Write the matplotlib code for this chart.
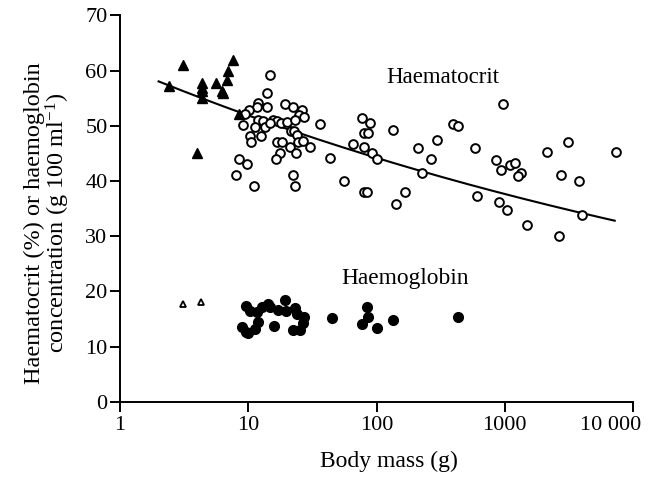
import numpy as np
import matplotlib
matplotlib.use('Agg')
import matplotlib.pyplot as plt
import matplotlib.transforms as mtransforms
from matplotlib.ticker import FixedLocator, NullLocator

plt.rcParams['font.family'] = ['Liberation Serif', 'DejaVu Serif']
plt.rcParams['mathtext.fontset'] = 'custom'
plt.rcParams['mathtext.rm'] = 'Liberation Serif'
plt.rcParams['mathtext.it'] = 'Liberation Serif:italic'

# haematocrit, open circles (body mass g, %)
hct_mass = [14.8, 13.9, 12.0, 11.6, 14.1, 10.2, 9.4, 19.3, 22.2, 26.1, 24.8, 27.3,
            12.0, 13.0, 15.7, 16.8, 17.9, 19.9, 23.1, 9.1, 11.3, 13.5, 14.8, 21.5,
            22.8, 24.1, 24.5, 26.8, 30.3, 10.4, 12.5, 10.6, 16.8, 18.2, 21.1, 17.7,
            23.5, 16.4, 8.5, 9.8, 8.0, 22.2, 11.1, 23.2, 36.2, 43.3, 77.4, 88.8,
            80.5, 85.7, 135, 65.8, 79.8, 92.6, 100, 56.0, 80.2, 83.7, 166, 142,
            209, 297, 264, 227, 392, 433, 585, 609, 972, 853, 932, 1096, 1199, 1328,
            1259, 2143, 3087, 2723, 3781, 7345, 904, 1044, 1479, 2641, 3968]
hct_val = [59.2, 56.0, 54.2, 53.4, 53.4, 52.8, 52.2, 53.9, 53.3, 52.8, 51.9, 51.6,
           51.0, 50.9, 51.0, 50.9, 50.4, 50.7, 51.0, 50.1, 49.8, 49.8, 50.4, 49.1,
           49.0, 48.3, 47.1, 47.2, 46.1, 48.1, 48.1, 47.1, 47.1, 47.1, 46.1, 45.0,
           45.0, 44.0, 44.0, 43.1, 41.0, 41.0, 39.1, 39.1, 50.3, 44.1, 51.4, 50.5,
           48.6, 48.6, 49.2, 46.6, 46.2, 45.0, 44.0, 40.0, 38.0, 38.0, 38.0, 35.8,
           45.9, 47.5, 43.9, 41.4, 50.3, 50.0, 46.0, 37.3, 53.9, 43.8, 42.0, 42.9,
           43.3, 41.5, 40.9, 45.3, 47.0, 41.0, 40.0, 45.2, 36.2, 34.7, 32.0, 30.1, 33.9]

# haematocrit, filled triangles
tri_mass = [2.41, 3.11, 4.33, 4.33, 4.33, 4.33, 5.6, 6.2, 6.3, 6.82, 6.9, 7.64, 8.46, 4.0]
tri_val = [57.2, 61.0, 57.8, 56.9, 56.3, 55.1, 57.8, 56.3, 55.9, 58.3, 60.0, 61.9, 52.1, 45.0]

# haemoglobin, filled circles (g 100 ml-1)
hb_mass = [9.6, 10.4, 11.6, 12.7, 14.3, 14.8, 17.1, 19.3, 19.7, 23.1, 24.1, 27.2,
           26.5, 25.3, 22.2, 15.8, 11.9, 11.3, 10.0, 9.0, 9.6, 44.8, 85, 86, 77,
           100, 135, 433]
hb_val = [17.3, 16.5, 16.3, 17.2, 17.7, 17.1, 16.7, 18.5, 16.5, 16.9, 15.9, 15.3,
          14.2, 13.0, 13.0, 13.7, 14.5, 13.1, 12.5, 13.6, 12.7, 15.1, 17.1, 15.4,
          14.0, 13.4, 14.8, 15.4]

# haemoglobin, open triangles
hbtri_mass = [3.08, 4.28]
hbtri_val = [17.7, 18.1]

# fitted haematocrit curve  Hct = a * M^b
fit_a = 60.9
fit_b = -0.0697
fit_range = (2.0, 7200)

fig = plt.figure(figsize=(6.69, 4.79), dpi=100)
ax = fig.add_axes([120/669, 1-401.7/479, (633-120)/669, (401.7-15.3)/479])

m = np.logspace(np.log10(fit_range[0]), np.log10(fit_range[1]), 200)
ax.plot(m, fit_a*m**fit_b, color='black', lw=1.5, zorder=2)

ax.plot(hct_mass, hct_val, 'o', ms=6.3, mfc='white', mec='black', mew=1.4, zorder=3)
ax.plot(tri_mass, tri_val, '^', ms=7.5, color='black', zorder=3)
ax.plot(hb_mass, hb_val, 'o', ms=7, color='black', zorder=3)
ax.plot(hbtri_mass, hbtri_val, '^', ms=5, mfc='white', mec='black', mew=1.3, zorder=3)

ax.text(329, 58.8, 'Haematocrit', ha='center', va='center', fontsize=16.5)
ax.text(166, 22.4, 'Haemoglobin', ha='center', va='center', fontsize=16.8)

ax.set_xscale('log')
ax.set_xlim(1, 10000)
ax.set_ylim(0, 70)
ax.xaxis.set_major_locator(FixedLocator([1, 10, 100, 1000, 10000]))
ax.xaxis.set_minor_locator(NullLocator())
ax.set_xticklabels(['1', '10', '100', '1000', '10 000'])
ax.set_yticks(range(0, 71, 10))

for s in ['top', 'right']:
    ax.spines[s].set_visible(False)
for s in ['left', 'bottom']:
    ax.spines[s].set_linewidth(1.4)
ax.tick_params(direction='out', length=7.5, width=1.4, labelsize=16)
ax.tick_params(axis='y', pad=1.5)
ax.tick_params(axis='x', pad=3)

# last label sits a little left of its tick in the original
lbl = ax.get_xticklabels()[-1]
lbl.set_transform(lbl.get_transform() + mtransforms.ScaledTranslation(-0.22, 0, fig.dpi_scale_trans))

ax.set_xlabel('Body mass (g)', fontsize=17)
ax.xaxis.set_label_coords(0.524, -0.128)
ax.set_ylabel('Haematocrit (%) or haemoglobin\nconcentration (g 100 ml$^{-1}$)',
              fontsize=17.5, linespacing=0.95)
ax.yaxis.set_label_coords(-0.093, 0.4625)

fig.savefig('out.png', dpi=100)
